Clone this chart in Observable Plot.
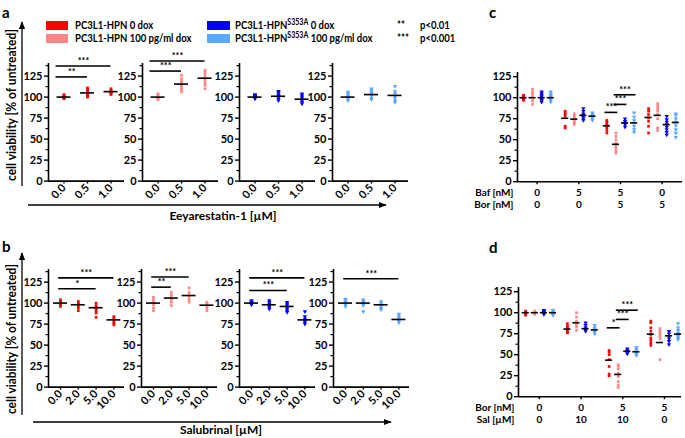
<!DOCTYPE html>
<html><head><meta charset="utf-8">
<script src="https://cdn.jsdelivr.net/npm/d3@7"></script>
<script src="https://cdn.jsdelivr.net/npm/@observablehq/plot@0.6"></script>
<style>
body{margin:0;background:#fff;}
#fig{position:relative;width:685px;height:438px;overflow:hidden;font-family:Lato,"DejaVu Sans",sans-serif;font-weight:bold;}
#fig svg{position:absolute;}
</style></head><body><div id="fig"></div>
<script>
// ---------- data ----------
const eeyDoses = ["0.0","0.5","1.0"];
const salDoses = ["0.0","2.0","5.0","10.0"];

// panel a (Eeyarestatin-1)
const aRed = [[98,99,99,100,100,101,102,103],[100,101,103,104,106,108,110,111],[103,104,105,106,107,108,110]];
const aRedMean = [100,105,106.5];
const aPink = [[97,98,99,100,101,103,104],[106,109,111,113,115,117,119,122,126],[110,114,117,120,122,124,127,130,132]];
const aPinkMean = [100,115.5,122.5];
const aBlue = [[98,99,100,101,102,103],[96,98,100,102,104,106,107],[92,94,96,98,100,102,104]];
const aBlueMean = [100,101,97.5];
const aLight = [[96,98,100,102,104,106],[97,99,102,104,106,108,110],[94,96,99,101,104,107,113]];
const aLightMean = [100,103,102];
const aBrackets = [
  [{from:0,to:1,y:124,s:"**"},{from:0,to:2,y:137,s:"***"}],
  [{from:0,to:1,y:131,s:"***"},{from:0,to:2,y:143,s:"***"}],
  [], []
];

// panel b (Salubrinal)
const bRed = [[96,98,99,100,101,102,104],[91,94,96,98,100,102],[83,88,91,93,95,97,100],[74,76,78,80,82,84]];
const bRedMean = [100,98,94.5,80];
const bPink = [[91,94,98,101,104,107],[97,101,104,107,110,113],[101,104,107,110,113,118],[91,94,96,98,100,101]];
const bPinkMean = [100,106,109,97.5];
const bBlue = [[98,99,100,101,102,103],[93,95,97,99,101,103],[89,91,93,95,97,99,101],[75,77,79,81,84,90]];
const bBlueMean = [100,98,96,80];
const bLight = [[96,98,100,102,104,105],[90,97,99,101,103,104],[92,94,96,98,100,102],[77,79,81,83,85,87]];
const bLightMean = [100,100,98,80.5];
const bBrackets = [
  [{from:0,to:2,y:117,s:"*"},{from:0,to:3,y:130,s:"***"}],
  [{from:0,to:1,y:119,s:"**"},{from:0,to:2,y:131,s:"***"}],
  [{from:0,to:2,y:115,s:"***"},{from:0,to:3,y:130,s:"***"}],
  [{from:0,to:3,y:129,s:"***"}]
];

// panel c (Baf / Bor)
const cBaf = ["0","5","5","0"];
const cBor = ["0","0","5","5"];
const cRed = [[97,98,99,100,101,102,103],[64,66,78,80,82,84],[58,61,64,67,69,71,73],[58,66,72,76,80,84,87]];
const cRedMean = [100,75.5,66.5,76.5];
const cPink = [[92,96,99,101,104,107,110],[68,70,72,74,76,78,81],[34,37,40,43,46,50,54,58],[61,64,75,80,84,87,90,93]];
const cPinkMean = [100,74.5,44.5,79];
const cBlue = [[95,97,99,101,103,105,107],[73,75,77,79,81,84,87],[65,68,70,72,75],[56,59,62,65,68,71,74,78]];
const cBlueMean = [100,79,70,68];
const cLight = [[95,97,99,101,103,105,107],[73,75,77,79,81,82],[59,62,66,70,73,77,82],[53,58,62,67,71,75,79,81]];
const cLightMean = [100,78,70,70.5];
const cBrackets = [
  {g:2,from:0,to:1,y:82.5,s:"***"},
  {g:2,from:1,to:2,y:92,s:"***"},
  {g:2,from:1,to:3,y:103.5,s:"***"}
];

// panel d (Bor / Sal)
const dBor = ["0","0","5","5"];
const dSal = ["0","10","10","0"];
const dRed = [[97,98,99,100,101,102],[76,78,80,82,84,87],[25,27,36,44,50,53,55],[61,64,67,70,74,78,82,88,90]];
const dRedMean = [100,80.5,43.5,74.5];
const dPink = [[98,99,100,101,102],[79,83,86,90,95,100],[11,14,18,24,28,33,36,38],[44,69,72,75,78,81]];
const dPinkMean = [100,88,26.5,64.5];
const dBlue = [[98,99,100,101,102,103],[78,80,82,85,88],[51,53,54,55,57],[62,66,69,72,75,78]];
const dBlueMean = [100,81,54,72.5];
const dLight = [[97,98,100,102,103],[75,77,80,82,85],[49,51,53,55,57,59],[68,70,72,74,76,79,82,87]];
const dLightMean = [100,79.5,53.5,74.5];
const dBrackets = [
  {g:2,from:0,to:1,y:82,s:"*"},
  {g:2,from:1,to:2,y:92,s:"***"},
  {g:2,from:1,to:3,y:103,s:"***"}
];

const legendLabels = ["PC3L1-HPN 0 dox","PC3L1-HPN 100 pg/ml dox"];
const yTitle = "cell viability [% of untreated]";

// ---------- style ----------
const COL = {red:"#ff0000", pink:"#ff8686", blue:"#0000ff", light:"#5aa8ff"};
const FONT = "Lato, 'DejaVu Sans', sans-serif";
const K = 0.84; // px per % unit
const fig = document.getElementById("fig");
const SX = "scale(0.83,1)";

// decorations (non-data)
fig.innerHTML = `
<svg width="685" height="438" style="left:0;top:0" font-family="${FONT}" font-weight="bold">
<defs><marker id="ar" viewBox="0 0 10 10" refX="9" refY="5" markerWidth="6" markerHeight="6" orient="auto"><path d="M0,1 L10,5 L0,9 z" fill="#000"/></marker></defs>
<text x="2" y="18" font-size="15">a</text>
<text x="2" y="252" font-size="15">b</text>
<text x="489" y="18" font-size="15">c</text>
<text x="489" y="253" font-size="15">d</text>
<line x1="22" y1="186" x2="22" y2="22" stroke="#000" stroke-width="1.3" marker-end="url(#ar)"/>
<line x1="22" y1="415" x2="22" y2="253" stroke="#000" stroke-width="1.3" marker-end="url(#ar)"/>
<line x1="28" y1="205" x2="386" y2="205" stroke="#000" stroke-width="1.3" marker-end="url(#ar)"/>
<line x1="33" y1="422" x2="391" y2="422" stroke="#000" stroke-width="1.3" marker-end="url(#ar)"/>
<text transform="translate(16,105) rotate(-90)" text-anchor="middle" font-size="12.5" textLength="152" lengthAdjust="spacingAndGlyphs">${yTitle}</text>
<text transform="translate(16,339) rotate(-90)" text-anchor="middle" font-size="12.5" textLength="150" lengthAdjust="spacingAndGlyphs">${yTitle}</text>
<text x="223" y="220" text-anchor="middle" font-size="12">Eeyarestatin-1 [µM]</text>
<text x="221" y="434" text-anchor="middle" font-size="12">Salubrinal [µM]</text>
<rect x="46" y="21" width="22" height="9" fill="${COL.red}"/>
<rect x="46" y="34" width="22" height="9" fill="${COL.pink}"/>
<rect x="207" y="21" width="23" height="9" fill="${COL.blue}"/>
<rect x="207" y="34" width="23" height="9" fill="${COL.light}"/>
<g font-size="11.5">
<g transform="translate(75,0) ${SX}"><text x="0" y="29.5">${legendLabels[0]}</text><text x="0" y="42.5">${legendLabels[1]}</text></g>
<g transform="translate(235,0) ${SX}">
<text x="0" y="29.5">PC3L1-HPN<tspan font-size="8.5" dy="-4.5">S353A</tspan><tspan dy="4.5"> 0 dox</tspan></text>
<text x="0" y="42.5">PC3L1-HPN<tspan font-size="8.5" dy="-4.5">S353A</tspan><tspan dy="4.5"> 100 pg/ml dox</tspan></text>
</g>
<g transform="translate(397,0) ${SX}"><text x="0" y="29.5">**</text><text x="0" y="42.5">***</text></g>
<g transform="translate(420,0) ${SX}"><text x="0" y="29.5">p&lt;0.01</text><text x="0" y="42.5">p&lt;0.001</text></g>
</g>
</svg>`;

function place(svg, left, top){
  svg.style.position = "absolute";
  svg.style.left = left + "px";
  svg.style.top = top + "px";
  fig.appendChild(svg);
}

function frameMarks(xmin, ymax){
  return [
    Plot.axisY({ticks:[0,25,50,75,100,125], tickSize:4, tickPadding:2, label:null, fontSize:11, strokeWidth:1.4}),
    Plot.axisY({ticks:d3.range(12.5, ymax, 25), tickSize:2.5, tickFormat:()=>"", label:null, strokeWidth:1.2}),
    Plot.ruleX([xmin], {strokeWidth:1.6}),
    Plot.ruleY([0], {strokeWidth:1.6})
  ];
}

function seriesMarks(vals, means, pos, color, tri, hw){
  const data = vals.flatMap((arr,i)=>arr.map(v=>({i, v})));
  const md = means.map((m,i)=>({i, v:m}));
  return [
    Plot.dot(data, {x:d=>pos(d.i), y:"v", fill:color, stroke:null,
      r: tri ? 1.6 : 1.5, symbol: tri ? "triangle" : "square", rotate: tri ? 180 : 0}),
    Plot.ruleY(md, {x1:d=>pos(d.i)-hw, x2:d=>pos(d.i)+hw, y:"v", stroke:"#000", strokeWidth:1.6})
  ];
}

function bracketMarks(br, p1, p2){
  return [
    Plot.ruleY(br, {x1:p1, x2:p2, y:"y", stroke:"#000", strokeWidth:1.6}),
    Plot.text(br, {x:d=>(p1(d)+p2(d))/2, y:"y", text:"s", dy:-2, lineAnchor:"bottom", fontSize:9})
  ];
}

function smallPanel({axisX, y0, firstOff, step, labels, vals, means, color, tri, brackets, off1}){
  const ymax = 140, width = 76, ML = 30, MR = 4, MT = 26, MB = 34;
  const xmin = -firstOff/step, xmax = (width - firstOff)/step;
  const h = ymax*K;
  const pos = i => i;
  const marks = [
    ...frameMarks(xmin, ymax),
    Plot.axisX({ticks:d3.range(labels.length), tickFormat:i=>labels[i], tickRotate:-45, tickSize:3, tickPadding:2, label:null, fontSize:11, strokeWidth:1.4}),
    ...seriesMarks(vals, means, pos, color, tri, 7/step),
    ...bracketMarks(brackets, d=>pos(d.from)+off1, d=>pos(d.to))
  ];
  const svg = Plot.plot({
    width: ML + width + MR, height: MT + h + MB,
    marginLeft: ML, marginRight: MR, marginTop: MT, marginBottom: MB,
    x:{domain:[xmin, xmax], axis:null}, y:{domain:[0, ymax], axis:null},
    style:{background:"transparent", fontFamily:FONT, fontWeight:"bold", overflow:"visible"},
    marks
  });
  place(svg, axisX - ML, y0 - h - MT);
}

function groupPanel({axisX, y0, xmin, xmax, series, brackets, rows, rowDy}){
  const step = 41.7, ymax = 130, ML = 48, MR = 4, MT = 12, MB = 34, sub = 0.218;
  const h = ymax*K, width = (xmax - xmin)*step;
  const pos = (g, s) => g + (s - 1.5)*sub;
  const marks = [
    ...frameMarks(xmin, ymax),
    Plot.axisX({ticks:[0,1,2,3], tickFormat:()=>"", tickSize:3, label:null, strokeWidth:1.4})
  ];
  series.forEach((s, si) => marks.push(...seriesMarks(s.vals, s.means, i => pos(i, si), s.color, s.tri, 0.085)));
  marks.push(...bracketMarks(brackets, d=>pos(d.g, d.from)-0.045, d=>pos(d.g, d.to)+0.045));
  rows.forEach((r, ri) => {
    marks.push(Plot.text(r.values, {x:(d,i)=>i, text:d=>d, frameAnchor:"bottom", dy:rowDy[ri], fontSize:10}));
    marks.push(Plot.text([r.title], {text:d=>d, frameAnchor:"bottom-left", dx:-4, dy:rowDy[ri], textAnchor:"end", fontSize:10}));
  });
  const svg = Plot.plot({
    width: ML + width + MR, height: MT + h + MB,
    marginLeft: ML, marginRight: MR, marginTop: MT, marginBottom: MB,
    x:{domain:[xmin, xmax], axis:null}, y:{domain:[0, ymax], axis:null},
    style:{background:"transparent", fontFamily:FONT, fontWeight:"bold", overflow:"visible"},
    marks
  });
  place(svg, axisX - ML, y0 - h - MT);
}

// panel a
const aSets = [[aRed,aRedMean,COL.red,false],[aPink,aPinkMean,COL.pink,false],[aBlue,aBlueMean,COL.blue,true],[aLight,aLightMean,COL.light,true]];
[48,142,239,332].forEach((ax, k) => smallPanel({
  axisX:ax, y0:181, firstOff:15.5, step:23.5, labels:eeyDoses,
  vals:aSets[k][0], means:aSets[k][1], color:aSets[k][2], tri:aSets[k][3],
  brackets:aBrackets[k], off1:-0.34
}));

// panel b
const bSets = [[bRed,bRedMean,COL.red,false],[bPink,bPinkMean,COL.pink,false],[bBlue,bBlueMean,COL.blue,true],[bLight,bLightMean,COL.light,true]];
[48,141,239,333].forEach((ax, k) => smallPanel({
  axisX:ax, y0:387, firstOff:12, step:17.8, labels:salDoses,
  vals:bSets[k][0], means:bSets[k][1], color:bSets[k][2], tri:bSets[k][3],
  brackets:bBrackets[k], off1:-0.1
}));

// panel c
groupPanel({
  axisX:517, y0:181, xmin:-0.47, xmax:3.49,
  series:[{vals:cRed,means:cRedMean,color:COL.red,tri:false},{vals:cPink,means:cPinkMean,color:COL.pink,tri:false},
          {vals:cBlue,means:cBlueMean,color:COL.blue,tri:true},{vals:cLight,means:cLightMean,color:COL.light,tri:true}],
  brackets:cBrackets,
  rows:[{title:"Baf [nM]", values:cBaf},{title:"Bor [nM]", values:cBor}], rowDy:[14,26.5]
});

// panel d
groupPanel({
  axisX:518, y0:396, xmin:-0.5, xmax:3.41,
  series:[{vals:dRed,means:dRedMean,color:COL.red,tri:false},{vals:dPink,means:dPinkMean,color:COL.pink,tri:false},
          {vals:dBlue,means:dBlueMean,color:COL.blue,tri:true},{vals:dLight,means:dLightMean,color:COL.light,tri:true}],
  brackets:dBrackets,
  rows:[{title:"Bor [nM]", values:dBor},{title:"Sal [µM]", values:dSal}], rowDy:[14.5,26.5]
});
</script></body></html>
